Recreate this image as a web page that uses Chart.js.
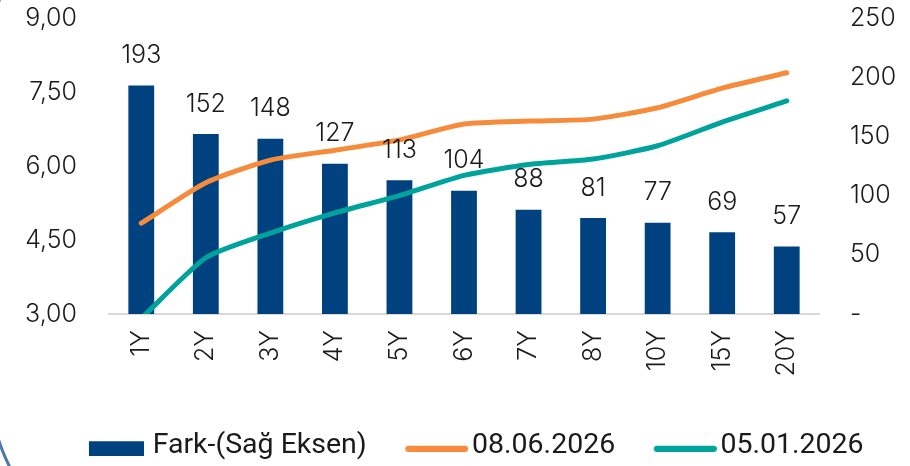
<!DOCTYPE html>
<html>
<head>
<meta charset="utf-8">
<script src="https://cdn.jsdelivr.net/npm/chart.js@4.4.1/dist/chart.umd.min.js"></script>
<style>
    html, body { margin: 0; padding: 0; background: #fff; overflow: hidden; }
    #wrap { position: relative; width: 910px; height: 466px; overflow: hidden; }
    /* sol kenardaki yuvarlak çerçeve */
    #frame {
        position: absolute; left: -12px; top: -130px; width: 2000px; height: 702px;
        border: 3px solid #4e79a7; border-radius: 190px; box-sizing: border-box;
    }
    #yieldChart { position: absolute; left: 0; top: 0; }
</style>
</head>
<body>
<div id="wrap">
    <div id="frame"></div>
    <canvas id="yieldChart" width="910" height="466"></canvas>
</div>
<script>
//-- veriler --
const vadeler = ['1Y', '2Y', '3Y', '4Y', '5Y', '6Y', '7Y', '8Y', '10Y', '15Y', '20Y'];
const fark = [193, 152, 148, 127, 113, 104, 88, 81, 77, 69, 57];
const faiz0806 = [4.84, 5.66, 6.12, 6.32, 6.53, 6.85, 6.91, 6.95, 7.18, 7.58, 7.89];
const faiz0501 = [2.91, 4.14, 4.64, 5.05, 5.40, 5.81, 6.03, 6.14, 6.41, 6.89, 7.32];
const solEksenTicks = [3.00, 4.50, 6.00, 7.50, 9.00];
const sagEksenTicks = [0, 50, 100, 150, 200, 250];

const NAVY = '#00427f';
const ORANGE = '#f68b3c';
const TEAL = '#00a39c';
const TEXT = '#1a1a1a';
const TICK_FONT = { family: 'Inter', size: 25, weight: 300 };

//-- legend kutucukları (sağa yaslı, solda boşluk) --
function makeSwatch(w, h, contentW, contentH, drawFn) {
    const c = document.createElement('canvas');
    c.width = w; c.height = h;
    drawFn(c.getContext('2d'), w - contentW, h - contentH, contentW, contentH);
    return c;
}
const barSwatch = makeSwatch(71, 21, 55, 15, (g, x, y, w, h) => {
    g.fillStyle = NAVY;
    g.fillRect(x, y, w, h);
});
function lineSwatch(color) {
    return makeSwatch(81, 12, 63, 6, (g, x, y, w, h) => {
        g.strokeStyle = color;
        g.lineWidth = h;
        g.lineCap = 'round';
        g.beginPath();
        g.moveTo(x + h / 2, y + h / 2);
        g.lineTo(x + w - h / 2, y + h / 2);
        g.stroke();
    });
}
const swatches = [barSwatch, lineSwatch(ORANGE), lineSwatch(TEAL)];

//-- eksen kenar boşluklarını sıfırla --
function noPadding(scale) {
    scale.paddingTop = 0;
    scale.paddingBottom = 0;
    scale.paddingLeft = 0;
    scale.paddingRight = 0;
}

//-- legend'i biraz sağa kaydır --
const legendShift = {
    id: 'legendShift',
    afterLayout(chart) {
        if (!chart.legend) return;
        chart.legend.left += 16;
        chart.legend.right += 16;
    }
};

//-- çubuk üstü değer etiketleri --
const barLabels = {
    id: 'barLabels',
    afterDatasetsDraw(chart) {
        const meta = chart.getDatasetMeta(0);
        const ctx = chart.ctx;
        ctx.save();
        ctx.font = `${TICK_FONT.weight} ${TICK_FONT.size}px ${TICK_FONT.family}`;
        ctx.fillStyle = TEXT;
        ctx.textAlign = 'center';
        ctx.textBaseline = 'middle';
        meta.data.forEach((bar, i) => {
            ctx.fillText(String(fark[i]), bar.x, bar.y - 30);
        });
        ctx.restore();
    }
};

function drawChart() {
    const ctx = document.getElementById('yieldChart').getContext('2d');
    new Chart(ctx, {
        type: 'bar',
        data: {
            labels: vadeler,
            datasets: [
                {
                    type: 'bar',
                    label: 'Fark-(Sağ Eksen)',
                    data: fark,
                    yAxisID: 'y1',
                    backgroundColor: NAVY,
                    barPercentage: 0.4,
                    categoryPercentage: 1.0,
                    order: 2
                },
                {
                    type: 'line',
                    label: '08.06.2026',
                    data: faiz0806,
                    yAxisID: 'y',
                    borderColor: ORANGE,
                    borderWidth: 5,
                    borderCapStyle: 'round',
                    borderJoinStyle: 'round',
                    pointRadius: 0,
                    tension: 0.2,
                    order: 1
                },
                {
                    type: 'line',
                    label: '05.01.2026',
                    data: faiz0501,
                    yAxisID: 'y',
                    borderColor: TEAL,
                    borderWidth: 5,
                    borderCapStyle: 'round',
                    borderJoinStyle: 'round',
                    pointRadius: 0,
                    tension: 0.2,
                    order: 1
                }
            ]
        },
        options: {
            responsive: false,
            animation: false,
            layout: { padding: { left: 0, right: 0, top: 18, bottom: -4 } },
            plugins: {
                tooltip: { enabled: false },
                legend: {
                    position: 'bottom',
                    labels: {
                        usePointStyle: true,
                        pointStyleWidth: 60,
                        padding: 31,
                        color: TEXT,
                        font: { family: 'Roboto', size: 28.5 },
                        sort: (a, b) => a.datasetIndex - b.datasetIndex,
                        generateLabels(chart) {
                            const items = Chart.defaults.plugins.legend.labels.generateLabels(chart);
                            items.forEach(it => { it.pointStyle = swatches[it.datasetIndex]; });
                            return items;
                        }
                    }
                }
            },
            scales: {
                x: {
                    offset: true,
                    grid: { display: false, drawTicks: false },
                    border: { display: true, color: '#d9d9d9', width: 2 },
                    ticks: {
                        color: TEXT,
                        font: TICK_FONT,
                        minRotation: 90,
                        maxRotation: 90,
                        padding: 16,
                        autoSkip: false
                    },
                    afterFit(scale) { scale.height = 86.5; noPadding(scale); }
                },
                y: {
                    position: 'left',
                    min: 3,
                    max: 9,
                    grid: { display: false, drawTicks: false },
                    border: { display: false },
                    afterBuildTicks(scale) { scale.ticks = solEksenTicks.map(v => ({ value: v })); },
                    ticks: {
                        color: TEXT,
                        font: TICK_FONT,
                        padding: 32,
                        callback: v => v.toFixed(2).replace('.', ',')
                    },
                    afterFit(scale) { scale.width = 109; noPadding(scale); }
                },
                y1: {
                    position: 'right',
                    min: 0,
                    max: 250,
                    grid: { display: false, drawTicks: false },
                    border: { display: false },
                    afterBuildTicks(scale) { scale.ticks = sagEksenTicks.map(v => ({ value: v })); },
                    ticks: {
                        color: TEXT,
                        font: TICK_FONT,
                        padding: 31,
                        callback: v => (v === 0 ? '-' : String(v))
                    },
                    afterFit(scale) { scale.width = 91; noPadding(scale); }
                }
            }
        },
        plugins: [barLabels, legendShift]
    });
}

Promise.all([
    document.fonts.load('300 25px Inter'),
    document.fonts.load('28px Roboto')
]).then(drawChart, drawChart);
</script>
</body>
</html>
